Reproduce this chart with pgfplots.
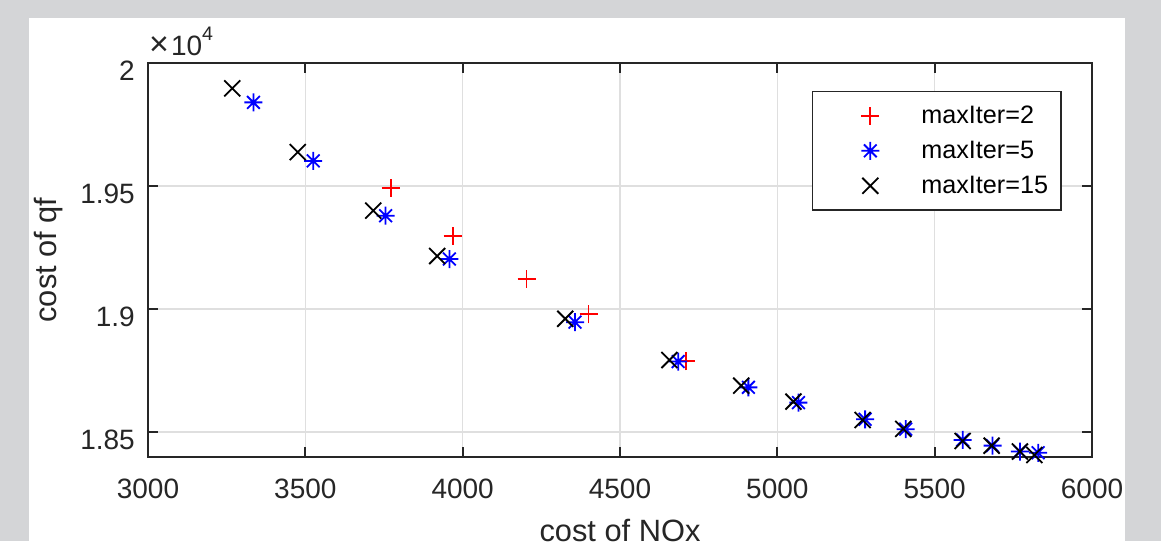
\documentclass[border=0pt]{standalone}
\usepackage{fontspec}
\setmainfont{Liberation Sans}
\usepackage{pgfplots}
\pgfplotsset{compat=1.18}
\definecolor{bggray}{HTML}{D4D5D7}
\definecolor{axc}{HTML}{262626}
\definecolor{gridc}{HTML}{DFDFDF}
\pgfdeclareplotmark{mplus}{%
  \pgfpathmoveto{\pgfqpoint{-\pgfplotmarksize}{0pt}}\pgfpathlineto{\pgfqpoint{\pgfplotmarksize}{0pt}}%
  \pgfpathmoveto{\pgfqpoint{0pt}{-\pgfplotmarksize}}\pgfpathlineto{\pgfqpoint{0pt}{\pgfplotmarksize}}%
  \pgfusepathqstroke}
\pgfdeclareplotmark{mx}{%
  \pgfpathmoveto{\pgfqpoint{-\pgfplotmarksize}{-\pgfplotmarksize}}\pgfpathlineto{\pgfqpoint{\pgfplotmarksize}{\pgfplotmarksize}}%
  \pgfpathmoveto{\pgfqpoint{-\pgfplotmarksize}{\pgfplotmarksize}}\pgfpathlineto{\pgfqpoint{\pgfplotmarksize}{-\pgfplotmarksize}}%
  \pgfusepathqstroke}
\pgfdeclareplotmark{mstar}{%
  \pgfpathmoveto{\pgfqpoint{-\pgfplotmarksize}{0pt}}\pgfpathlineto{\pgfqpoint{\pgfplotmarksize}{0pt}}%
  \pgfpathmoveto{\pgfqpoint{0pt}{-\pgfplotmarksize}}\pgfpathlineto{\pgfqpoint{0pt}{\pgfplotmarksize}}%
  \pgfpathmoveto{\pgfqpoint{-.7071\pgfplotmarksize}{-.7071\pgfplotmarksize}}\pgfpathlineto{\pgfqpoint{.7071\pgfplotmarksize}{.7071\pgfplotmarksize}}%
  \pgfpathmoveto{\pgfqpoint{-.7071\pgfplotmarksize}{.7071\pgfplotmarksize}}\pgfpathlineto{\pgfqpoint{.7071\pgfplotmarksize}{-.7071\pgfplotmarksize}}%
  \pgfusepathqstroke}
\pgfplotsset{mylegend/.style={legend image code/.code={%
  \path[draw=none,fill=none] (0pt,-1pt) rectangle (96pt,1pt);
  \draw[##1] plot coordinates {(48pt,0pt)};}}}
\begin{document}
\begin{tikzpicture}[x=1pt,y=1pt]
\fill[bggray] (0,0) rectangle (1161,541);
\fill[white] (29,0) rectangle (1125,523);
\useasboundingbox (0,0) rectangle (1161,541);
\begin{axis}[
  at={(148pt,84.3pt)}, anchor=south west,
  scale only axis, width=944pt, height=393.4pt,
  xmin=3000, xmax=6000, ymin=18400, ymax=20000,
  xtick={3000,3500,4000,4500,5000,5500,6000},
  xticklabels={3000,3500,4000,4500,5000,5500,6000},
  ytick={18500,19000,19500,20000},
  yticklabels={1.85,1.9,1.95,2},
  scaled y ticks=false,
  tick align=inside, major tick length=10pt,
  xtick pos=both, ytick pos=both,
  tick style={color=axc, line width=1.8pt},
  axis line style={color=axc, line width=2pt},
  grid=major, major grid style={color=gridc, line width=1.5pt},
  every tick label/.append style={font=\fontsize{28}{34}\selectfont, text=axc},
  xticklabel style={yshift=-19pt},
  yticklabel style={xshift=-9.7pt, yshift=-7.5pt},
  xlabel={cost of NOx}, ylabel={cost of qf},
  every axis label/.append style={font=\fontsize{30.8}{36}\selectfont, text=axc},
  xlabel style={at={(axis description cs:0.5,-0.2168)}, anchor=base},
  ylabel style={at={(axis description cs:-0.0964,0.5)}, anchor=base, rotate=0},
  legend style={at={(axis description cs:0.703,0.930)}, anchor=north west,
    draw=axc, line width=1.3pt, fill=white,
    font=\fontsize{25.2}{30}\selectfont,
    inner xsep=10pt, inner ysep=6.8pt, row sep=0pt,
    /tikz/every even column/.append style={column sep=3pt},
    nodes={inner xsep=3pt, inner ysep=5.5pt, text height=20pt, text depth=4pt}},
  legend cell align=left,
]
\addplot[only marks, mylegend, mark=mplus, mark size=9pt, color=red, line width=1.8pt] coordinates {
(3771,19494) (3968,19299) (4203,19123) (4400,18979) (4710,18788)
};
\addlegendentry{maxIter=2}
\addplot[only marks, mylegend, mark=mstar, mark size=9pt, color=blue, line width=1.8pt] coordinates {
(3335,19841) (3525,19603) (3755,19380) (3958,19204) (4357,18947) (4685,18787) (4908,18682)
(5067,18620) (5279,18552) (5408,18512) (5589,18468) (5684,18445) (5771,18421) (5829,18416)
};
\addlegendentry{maxIter=5}
\addplot[only marks, mylegend, mark=mx, mark size=8pt, color=black, line width=1.8pt] coordinates {
(3268,19898) (3476,19639) (3716,19401) (3919,19216) (4326,18961) (4657,18793) (4885,18689)
(5051,18624) (5271,18549) (5400,18513) (5589,18464) (5681,18445) (5771,18421) (5817,18407)
};
\addlegendentry{maxIter=15}
\end{axis}
\node[anchor=base west, inner sep=0pt, text=axc, font=\fontsize{28}{34}\selectfont] at (149,485) {{\fontsize{34}{34}\selectfont ×}\hspace{2pt}10\raisebox{15pt}{\fontsize{19.6}{22}\selectfont 4}};
\end{tikzpicture}
\end{document}
